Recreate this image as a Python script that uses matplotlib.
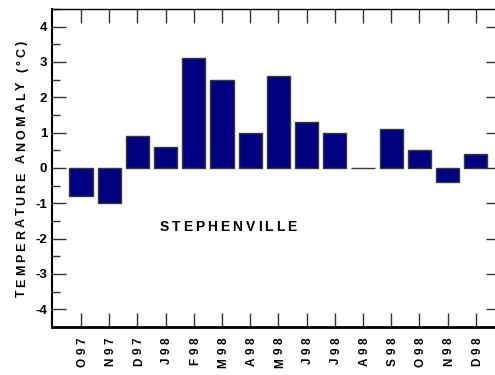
import matplotlib
matplotlib.use('Agg')
import matplotlib.pyplot as plt
from matplotlib.font_manager import FontProperties
from matplotlib.ticker import MultipleLocator

months = ['O97', 'N97', 'D97', 'J98', 'F98', 'M98', 'A98', 'M98',
          'J98', 'J98', 'A98', 'S98', 'O98', 'N98', 'D98']
anomaly = [-0.8, -1.0, 0.9, 0.6, 3.1, 2.5, 1.0, 2.6,
           1.3, 1.0, 0.0, 1.1, 0.5, -0.4, 0.4]
y_ticks = [-4, -3, -2, -1, 0, 1, 2, 3, 4]
y_labels = ['-4', '-3', '-2', '-1', '0', '1', '2', '3', '4']
station = 'STEPHENVILLE'
y_title = 'TEMPERATURE ANOMALY (\u00b0C)'

plt.rcParams['font.family'] = ['Liberation Sans', 'DejaVu Sans']
plt.rcParams['font.weight'] = 'bold'
plt.rcParams['axes.unicode_minus'] = False

fig = plt.figure(figsize=(4.95, 3.75), dpi=100)
ax = fig.add_axes([52 / 495, 48 / 375, 448 / 495, 318 / 375])

x = list(range(len(months)))
ax.bar(x, anomaly, width=0.82, color='#000080', edgecolor='#3a3a3a', linewidth=1)

ax.set_xlim(-1.03, 14.86)
ax.set_ylim(-4.5, 4.5)
ax.set_xticks(x)
ax.set_xticklabels([])
ax.set_yticks(y_ticks)
ax.yaxis.set_minor_locator(MultipleLocator(0.5))

ax.tick_params(axis='x', which='major', direction='in', length=10, width=1,
               top=True, bottom=True, color='#333333')
ax.tick_params(axis='y', which='major', direction='in', length=10, width=1,
               left=True, right=True, pad=3.5, color='#333333')
ax.tick_params(axis='y', which='minor', direction='in', length=6, width=1,
               left=True, right=False, color='#333333')
ax.set_yticklabels(y_labels, fontsize=9.5, fontweight='bold')
ax.spines['left'].set_linewidth(1.5)
ax.spines['bottom'].set_linewidth(2)
ax.spines['top'].set_linewidth(1)


def spaced_text(s, xy, xycoords, size, gap, rotation=0, align='center', dx=0, dy=0):
    # letter-spaced bold text, drawn one character at a time
    fp = FontProperties(family='Liberation Sans', weight='bold', size=size)
    r = fig.canvas.get_renderer()
    widths = []
    for c in s:
        if c == ' ':
            widths.append(0.278 * size * fig.dpi / 72)
        else:
            widths.append(r.get_text_width_height_descent(c, fp, ismath=False)[0])
    total = sum(widths) + gap * (len(s) - 1)
    pos = -total / 2 if align == 'center' else -total
    for c, w in zip(s, widths):
        off = pos + w / 2
        ox, oy = (off, 0) if rotation == 0 else (0, off)
        ax.annotate(c, xy, xycoords=xycoords, xytext=(dx + ox, dy + oy),
                    textcoords='offset pixels', fontproperties=fp,
                    rotation=rotation, rotation_mode='anchor',
                    ha='center', va='baseline', annotation_clip=False)
        pos += w + gap


for xi, lab in zip(x, months):
    spaced_text(lab, (xi, 0), ax.get_xaxis_transform(), 8.5, 3.5,
                rotation=90, align='end', dx=4.5, dy=-11)

spaced_text(station, (5.21, -1.79), 'data', 10, 3.0)
spaced_text(y_title, (25, 206), 'figure pixels', 9, 3.0, rotation=90)

fig.savefig('out.png', dpi=100)
